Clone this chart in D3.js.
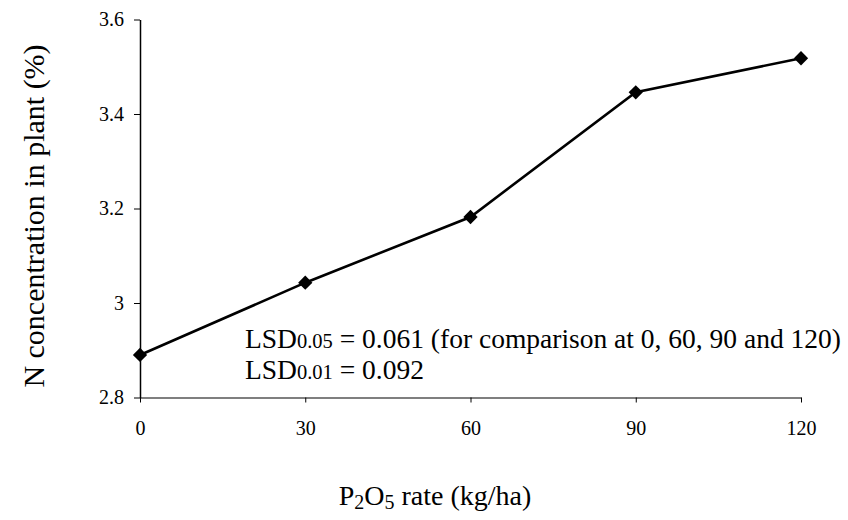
<!DOCTYPE html>
<html>
<head>
<meta charset="utf-8">
<script src="https://cdn.jsdelivr.net/npm/d3@7"></script>
<style>
  html, body { margin: 0; padding: 0; background: #fff; }
  svg { display: block; }
  text { font-family: "Liberation Serif", "Times New Roman", serif; fill: #000; }
</style>
</head>
<body>
<svg id="chart" width="848" height="520"></svg>
<script>
// ---- data ----
const rates = [0, 30, 60, 90, 120];
const nConc = [2.89, 3.043, 3.182, 3.446, 3.518];
const xTicks = [0, 30, 60, 90, 120];
const yTicks = [2.8, 3.0, 3.2, 3.4, 3.6];
const yTickLabels = ["2.8", "3", "3.2", "3.4", "3.6"];
const lsdLines = [
  { main: "LSD", sub: "0.05", rest: " = 0.061 (for comparison at 0, 60, 90 and 120)" },
  { main: "LSD", sub: "0.01", rest: " = 0.092" }
];

const SERIF = "'Liberation Serif', 'Times New Roman', serif";
const svg = d3.select("#chart");
const plotL = 140, plotR = 801, plotT = 19.5, plotB = 397.5;

const x = d3.scaleLinear().domain([0, 120]).range([plotL, plotR]);
const y = d3.scaleLinear().domain([2.8, 3.6]).range([plotB, plotT]);

// axes
const xAxis = d3.axisBottom(x).tickValues(xTicks).tickSize(5).tickSizeOuter(0).tickPadding(18)
  .tickFormat(d => String(d));
const gx = svg.append("g").attr("transform", `translate(0,${plotB})`).call(xAxis);
gx.attr("font-family", SERIF);
gx.select(".domain").attr("stroke", "#000").attr("stroke-width", 1.2);
gx.selectAll(".tick line").attr("stroke", "#000").attr("stroke-width", 1);
gx.selectAll(".tick text").attr("font-size", 20).attr("fill", "#000").style("font-family", SERIF);

const yAxis = d3.axisLeft(y).tickValues(yTicks).tickSize(6).tickSizeOuter(0).tickPadding(10)
  .tickFormat((d, i) => yTickLabels[i]);
const gy = svg.append("g").attr("transform", `translate(${plotL},0)`).call(yAxis);
gy.attr("font-family", SERIF);
gy.select(".domain").attr("stroke", "#000").attr("stroke-width", 1.5);
gy.selectAll(".tick line").attr("stroke", "#000").attr("stroke-width", 1);
gy.selectAll(".tick text").attr("font-size", 20).attr("fill", "#000").style("font-family", SERIF);

// line
const data = rates.map((r, i) => ({ r, v: nConc[i] }));
svg.append("path")
  .datum(data)
  .attr("fill", "none")
  .attr("stroke", "#000")
  .attr("stroke-width", 2.6)
  .attr("d", d3.line().x(d => x(d.r)).y(d => y(d.v)));

// markers (diamonds)
svg.selectAll("path.pt")
  .data(data)
  .join("path")
  .attr("class", "pt")
  .attr("d", d3.symbol().type(d3.symbolDiamond2).size(130))
  .attr("transform", d => `translate(${x(d.r)},${y(d.v)})`)
  .attr("fill", "#000");

// annotation
lsdLines.forEach((l, i) => {
  const t = svg.append("text")
    .attr("x", 245)
    .attr("y", 348 + i * 31)
    .attr("font-size", 27.5)
    .style("font-family", SERIF)
    .attr("fill", "#000");
  t.append("tspan").text(l.main);
  t.append("tspan").attr("font-size", 20.5).text(l.sub);
  t.append("tspan").text(l.rest);
});

// x axis title
const xt = svg.append("text")
  .attr("x", 435)
  .attr("y", 505)
  .attr("text-anchor", "middle")
  .attr("font-size", 28)
  .style("font-family", SERIF)
  .attr("fill", "#000");
xt.append("tspan").text("P");
xt.append("tspan").attr("font-size", 20).attr("dy", 4).text("2");
xt.append("tspan").attr("dy", -4).text("O");
xt.append("tspan").attr("font-size", 20).attr("dy", 4).text("5");
xt.append("tspan").attr("dy", -4).text(" rate (kg/ha)");

// y axis title
svg.append("text")
  .attr("transform", "translate(44,216) rotate(-90)")
  .attr("text-anchor", "middle")
  .attr("font-size", 30)
  .style("font-family", SERIF)
  .attr("fill", "#000")
  .text("N concentration in plant (%)");
</script>
</body>
</html>
